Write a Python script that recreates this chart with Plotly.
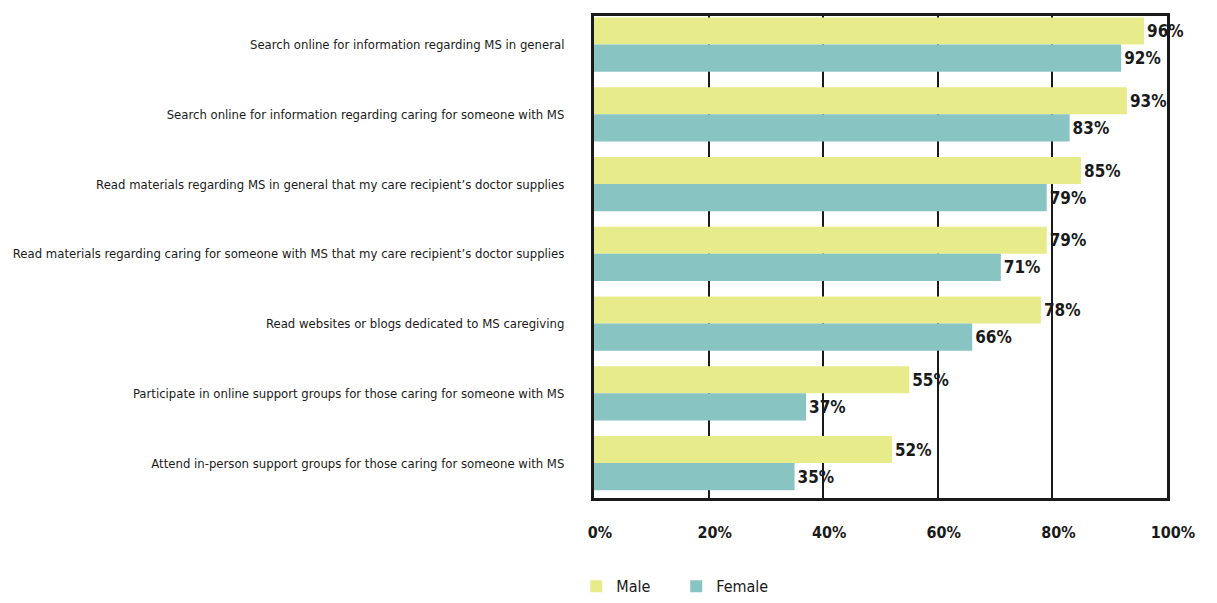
import plotly.graph_objects as go

categories = [
    "Search online for information regarding MS in general",
    "Search online for information regarding caring for someone with MS",
    "Read materials regarding MS in general that my care recipient\u2019s doctor supplies",
    "Read materials regarding caring for someone with MS that my care recipient\u2019s doctor supplies",
    "Read websites or blogs dedicated to MS caregiving",
    "Participate in online support groups for those caring for someone with MS",
    "Attend in-person support groups for those caring for someone with MS",
]
male = [96, 93, 85, 79, 78, 55, 52]
female = [92, 83, 79, 71, 66, 37, 35]
x_ticks = [0, 20, 40, 60, 80, 100]

FONT = "DejaVu Sans Condensed, Liberation Sans Narrow, sans-serif"
COLORS = {"Male": "#e8eb8a", "Female": "#88c4c2"}

fig = go.Figure()
for name, vals in [("Male", male), ("Female", female)]:
    fig.add_trace(go.Bar(
        name=name, y=categories, x=vals, orientation="h",
        marker=dict(color=COLORS[name], line=dict(width=0)),
        text=[f"{v}%" for v in vals], textposition="outside",
        textfont=dict(family=FONT, size=17, color="#1a1a1a", weight="bold"),
        cliponaxis=False,
    ))

# page body adds an 8px margin, so the figure is shifted a little
fig.update_layout(
    width=1201, height=603,
    barmode="group", bargap=0.22, bargroupgap=0,
    plot_bgcolor="white", paper_bgcolor="white",
    margin=dict(l=586, r=42, t=8, b=109),
    font=dict(family=FONT, color="#1a1a1a"),
    legend=dict(
        orientation="h", x=-0.031, y=-0.148, xanchor="left", yanchor="top",
        font=dict(family=FONT, size=16), itemwidth=30,
        entrywidth=55, entrywidthmode="pixels", traceorder="normal",
    ),
    xaxis=dict(
        range=[0, 100], tickvals=x_ticks, ticktext=[f"{t}%" for t in x_ticks],
        showgrid=True, gridcolor="#1a1a1a", gridwidth=2,
        showline=True, linecolor="#1a1a1a", linewidth=3, mirror=True,
        ticks="", ticklabelstandoff=18, ticklabelshift=6,
        zeroline=False, automargin=False,
        tickfont=dict(family=FONT, size=16, weight="bold"),
    ),
    yaxis=dict(
        range=[6.5, -0.41], showgrid=False,
        showline=True, linecolor="#1a1a1a", linewidth=3, mirror=True,
        ticks="", ticklabelstandoff=24, automargin=False,
        tickfont=dict(family=FONT, size=13),
    ),
)

fig.write_html("out.html")
